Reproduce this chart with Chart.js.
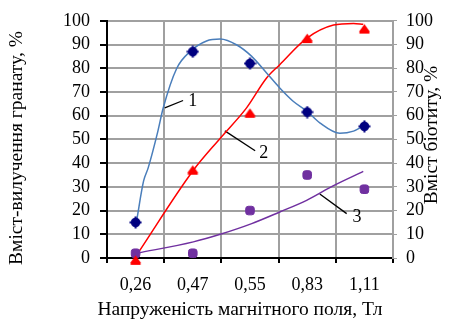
<!DOCTYPE html>
<html>
<head>
<meta charset="utf-8">
<script src="https://cdn.jsdelivr.net/npm/chart.js@4.4.0/dist/chart.umd.min.js"></script>
<style>
body { margin: 0; background: #fff; }
canvas { display: block; }
</style>
</head>
<body>
<canvas id="chart" width="464" height="326"></canvas>
<script>
var categories = ['0,26', '0,47', '0,55', '0,83', '1,11'];
var garnetPoints = [15, 87, 82, 61.5, 55.5];
var redPoints = [-1, 37, 61, 92.5, 96.5];
var biotitePoints = [2, 2, 20, 35, 29];

// trend curves, x = position on the category axis (0..4)
var garnetCurveX = [0.02, 0.14, 0.22, 0.39, 0.48, 0.72, 0.95, 1.24, 1.48, 1.77, 2.03, 2.29, 2.52, 2.76, 2.99, 3.22, 3.57, 3.81, 3.98];
var garnetCurveY = [16, 32.5, 38, 53.5, 63, 80, 87, 91.5, 92.3, 89.8, 85, 78, 71.7, 66, 62, 57, 52.6, 53.5, 55.6];
var redCurveX = [0.02, 1.01, 1.48, 1.94, 2.29, 2.52, 2.99, 3.46, 3.81, 3.98];
var redCurveY = [1.3, 37, 50.5, 63.3, 75.9, 81.5, 92.6, 98.2, 98.9, 98.5];
var biotiteCurveX = [0.02, 1.01, 1.48, 2.03, 2.52, 2.99, 3.46, 3.98];
var biotiteCurveY = [2, 6.8, 10, 14.5, 19.4, 24.3, 30.5, 36.5];

// numbered leader lines
var curveLabels = ['1', '2', '3'];
var labelX = [1.0, 2.24, 3.87];
var labelY = [66, 44, 17];
var leaderX = [[0.51, 0.83], [1.56, 2.09], [3.22, 3.69]];
var leaderY = [[63.3, 66.4], [53.6, 45.2], [27, 18.7]];

var xTitle = 'Напруженість магнітного поля, Тл';
var leftTitle = 'Вміст-вилучення гранату, %';
var rightTitle = 'Вміст біотиту, %';

var FONT = 'Liberation Serif';
Chart.defaults.font.family = FONT;
Chart.defaults.font.size = 18;
Chart.defaults.color = '#000';

function toXY(xs, ys)
{
	var out = [];
	for (var i = 0; i < xs.length; i++) out.push({x: xs[i], y: ys[i]});
	return out;
}

function makeMarker(kind)
{
	var c = document.createElement('canvas');
	c.width = 13; c.height = 13;
	var g = c.getContext('2d');
	if (kind == 'garnet') {
		g.fillStyle = '#000080';
		g.beginPath(); g.arc(6.5, 6.5, 4.8, 0, Math.PI * 2); g.fill();
		g.fillRect(5.5, 0.5, 2, 12);
		g.fillRect(0.5, 5.5, 12, 2);
	} else if (kind == 'red') {
		g.fillStyle = '#ff0000';
		g.beginPath(); g.moveTo(6.5, 1.5); g.lineTo(1.5, 8.5); g.lineTo(11.5, 8.5); g.closePath(); g.fill();
		g.fillRect(1.5, 8, 10, 3);
	}
	return c;
}

function curve(xs, ys, color)
{
	return {
		type: 'line', xAxisID: 'xFit', yAxisID: 'y', order: 1,
		data: toXY(xs, ys), borderColor: color, borderWidth: 1.5,
		pointRadius: 0, cubicInterpolationMode: 'monotone', clip: false
	};
}

function rotatedText(ctx, text, x, y)
{
	ctx.save();
	ctx.translate(x, y);
	ctx.rotate(-Math.PI / 2);
	ctx.fillText(text, 0, 0);
	ctx.restore();
}

var annotationPlugin = {
	id: 'annotations',
	afterDraw: function(chart) {
		var ctx = chart.ctx;
		var xs = chart.scales.xFit, ys = chart.scales.y;
		ctx.save();
		ctx.fillStyle = '#000';
		ctx.textAlign = 'center';
		ctx.textBaseline = 'middle';
		ctx.font = '18px "' + FONT + '"';
		for (var i = 0; i < curveLabels.length; i++) {
			ctx.fillText(curveLabels[i], xs.getPixelForValue(labelX[i]), ys.getPixelForValue(labelY[i]));
		}
		ctx.font = '19.5px "' + FONT + '"';
		rotatedText(ctx, leftTitle, 17, 148);
		rotatedText(ctx, rightTitle, 432, 135);
		ctx.fillText(xTitle, 240, 310);
		ctx.restore();
	}
};

function draw()
{
	var leaderSets = [];
	for (var k = 0; k < leaderX.length; k++) {
		leaderSets.push({
			type: 'line', xAxisID: 'xFit', yAxisID: 'y', order: 2,
			data: toXY(leaderX[k], leaderY[k]),
			borderColor: '#000', borderWidth: 1.3, pointRadius: 0
		});
	}

	new Chart(document.getElementById('chart'), {
		type: 'line',
		data: {
			labels: categories,
			datasets: [
				{ label: 'garnet', data: garnetPoints, showLine: false, order: 0, clip: false,
				  pointStyle: makeMarker('garnet'), pointRadius: 6 },
				{ label: 'red', data: redPoints, showLine: false, order: 0, clip: false,
				  pointStyle: makeMarker('red'), pointRadius: 6 },
				{ label: 'biotite', data: biotitePoints, showLine: false, order: 0, clip: false,
				  pointStyle: 'rectRounded', pointRadius: 5, backgroundColor: '#7030a0', borderColor: '#7030a0' },
				curve(garnetCurveX, garnetCurveY, '#4a7ebb'),
				curve(redCurveX, redCurveY, '#ff0000'),
				curve(biotiteCurveX, biotiteCurveY, '#7030a0')
			].concat(leaderSets)
		},
		options: {
			responsive: false,
			animation: false,
			layout: { padding: { top: 19, left: 0, right: 0, bottom: 0 } },
			plugins: { legend: { display: false }, tooltip: { enabled: false } },
			scales: {
				x: {
					type: 'category', offset: true,
					grid: { offset: true, color: '#a0a0a0', lineWidth: 2, tickColor: '#000', tickLength: 5 },
					border: { color: '#000', width: 2 },
					ticks: { color: '#000', padding: 11, maxRotation: 0, autoSkip: false },
					afterFit: function(s) { s.height = 68; }
				},
				xFit: { type: 'linear', min: -0.5, max: 4.5, display: false },
				y: {
					position: 'left', min: 0, max: 100,
					ticks: { stepSize: 10, color: '#000', padding: 10, autoSkip: false },
					grid: { color: '#a0a0a0', lineWidth: 2, tickColor: '#000', tickLength: 7 },
					border: { color: '#000', width: 2 },
					afterFit: function(s) { s.width = 107; }
				},
				y2: {
					position: 'right', min: 0, max: 100,
					ticks: { stepSize: 10, color: '#000', padding: 9, autoSkip: false },
					grid: { drawOnChartArea: false, color: '#a0a0a0', tickColor: '#a0a0a0', tickLength: 4 },
					border: { color: '#a0a0a0', width: 2 },
					afterFit: function(s) { s.width = 71; }
				}
			}
		},
		plugins: [annotationPlugin]
	});
}

document.fonts.load('18px "Liberation Serif"').then(draw, draw);
</script>
</body>
</html>
